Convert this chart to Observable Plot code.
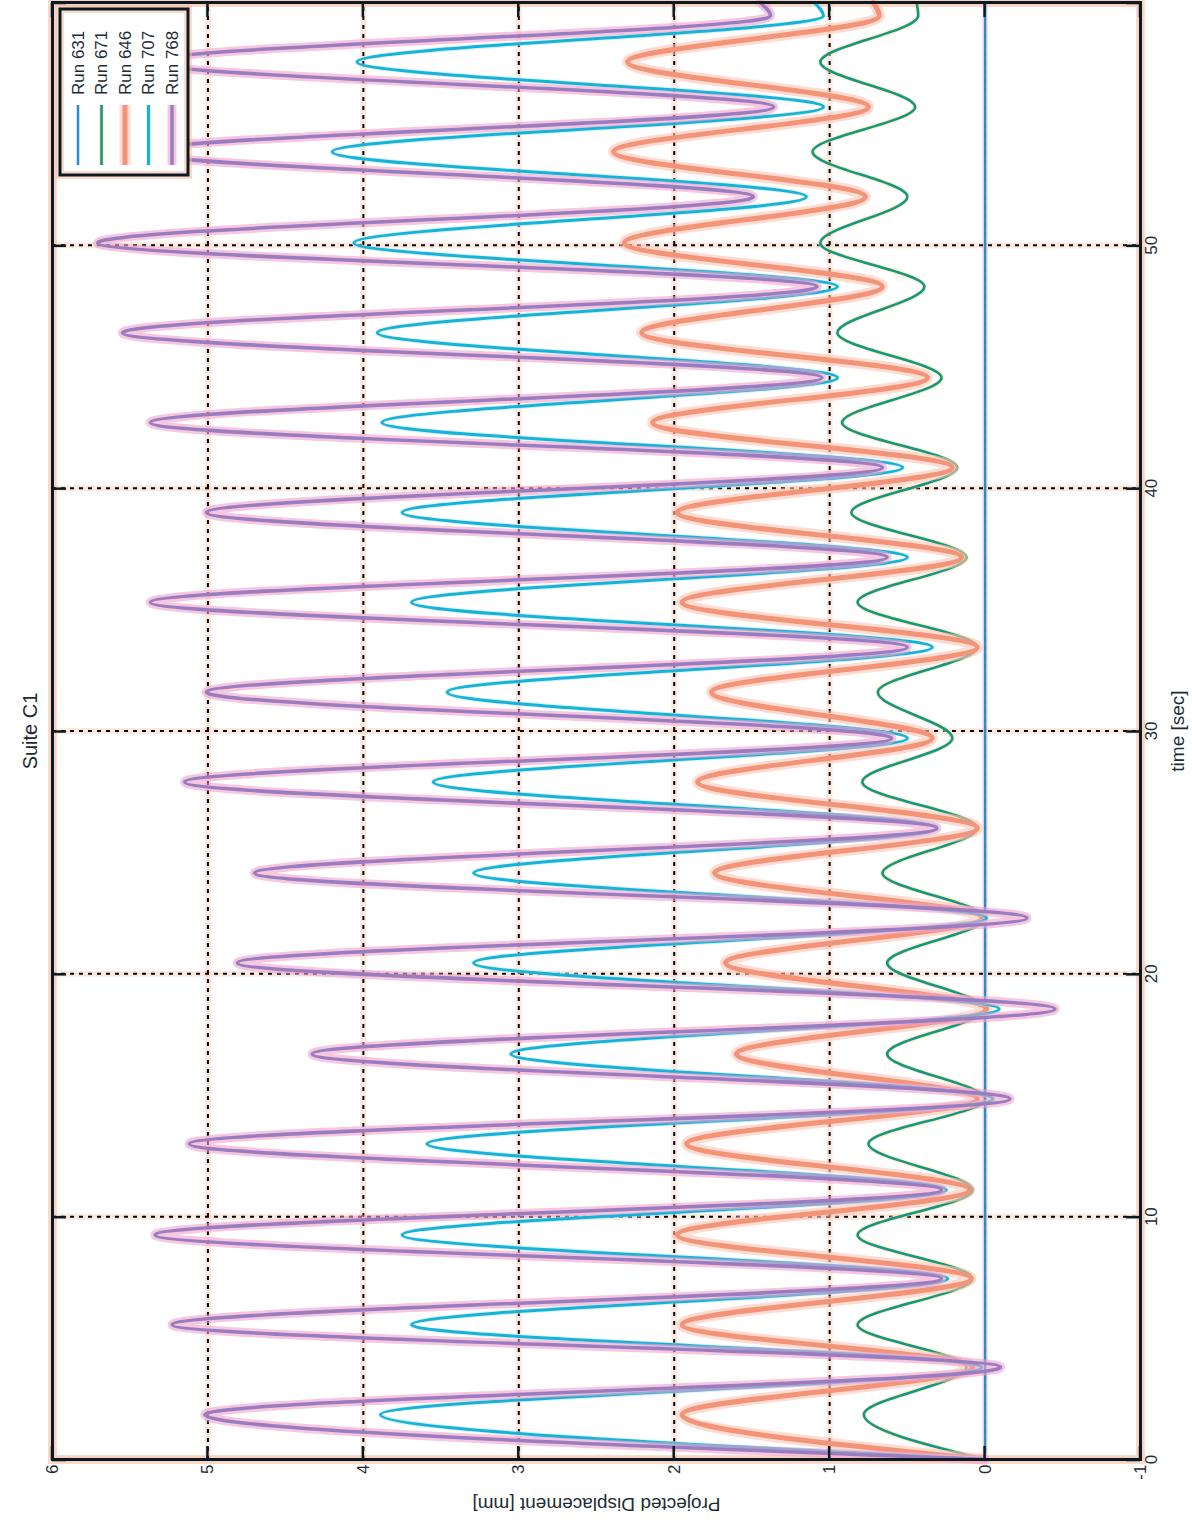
<!DOCTYPE html>
<html><head><meta charset="utf-8">
<script src="https://cdn.jsdelivr.net/npm/d3@7"></script>
<script src="https://cdn.jsdelivr.net/npm/@observablehq/plot@0.6"></script>
<style>
html,body{margin:0;padding:0;background:#fff;width:1192px;height:1530px;overflow:hidden}
#rot{position:absolute;left:0;top:0;width:1530px;height:1192px;transform-origin:0 0;transform:translate(0px,1530px) rotate(-90deg);}
</style></head><body><div id="rot"></div>
<script>
// time of each read extreme (start, peak, trough, ..., end) [sec]
const times = [0, 1.85, 3.8, 5.55, 7.45, 9.25, 11.1, 13.0, 14.85, 16.7, 18.55, 20.45, 22.3, 24.15, 26.0, 27.9, 29.7, 31.6, 33.45, 35.3, 37.15, 39.0, 40.85, 42.7, 44.55, 46.4, 48.3, 50.1, 52.0, 53.85, 55.7, 57.55, 59.45, 60];
const run768 = [0, 5.02,-0.1, 5.23,0.28, 5.34,0.28, 5.12,-0.16, 4.33,-0.45, 4.81,-0.27, 4.70,0.31, 5.15,0.6, 5.01,0.5, 5.37,0.63, 5.01,0.66, 5.37,1.05, 5.55,1.08, 5.71,1.49, 5.45,1.36, 5.40,1.38, 1.45];
const run707 = [0, 3.89,0.02, 3.69,0.24, 3.75,0.25, 3.59,-0.05, 3.05,-0.09, 3.29,-0.01, 3.29,0.31, 3.55,0.5, 3.46,0.34, 3.69,0.5, 3.75,0.53, 3.88,0.95, 3.91,0.95, 4.06,1.15, 4.20,1.04, 4.04,1.04, 1.1];
const run646 = [0, 1.95,0.08, 1.95,0.09, 1.98,0.10, 1.92,0.05, 1.60,-0.01, 1.67,0.02, 1.74,0.05, 1.85,0.34, 1.76,0.05, 1.95,0.15, 1.98,0.21, 2.14,0.37, 2.21,0.66, 2.32,0.77, 2.39,0.75, 2.30,0.68, 0.72];
const run671 = [0, 0.78,0.12, 0.82,0.08, 0.82,0.08, 0.75,0, 0.63,0, 0.63,0, 0.66,0.05, 0.79,0.21, 0.69,0.05, 0.82,0.12, 0.86,0.18, 0.92,0.28, 0.95,0.39, 1.06,0.50, 1.11,0.45, 1.06,0.43, 0.44];
const run631Times = [0, 60];
const run631 = [0, 0];
const seriesNames = ["Run 631", "Run 671", "Run 646", "Run 707", "Run 768"];
const xTicks = [0, 10, 20, 30, 40, 50, 60];
const xTickLabels = [0, 10, 20, 30, 40, 50];
const yTicks = [-1, 0, 1, 2, 3, 4, 5, 6];
const titleText = "Suite C1";
const xLabel = "time [sec]";
const yLabel = "Projected Displacement [mm]";

const styles = {
  "Run 631": {halo: null, haloW: 0, core: "#2a8ad6", coreW: 2.5},
  "Run 671": {halo: "#fbe59a", haloW: 5, core: "#14958a", coreW: 2.6},
  "Run 646": {halo: "#fbc7b6", haloW: 11, core: "#f39378", coreW: 5},
  "Run 707": {halo: "#bfe9f3", haloW: 5, core: "#17b2d8", coreW: 3},
  "Run 768": {halo: "#f2a2cc", haloW: 9, core: "#9a7cc0", coreW: 3.5}
};

function rowsOf(name, ts, vs) { return ts.map((t, i) => ({series: name, t, v: vs[i]})); }
const table = [
  rowsOf("Run 631", run631Times, run631),
  rowsOf("Run 671", times, run671),
  rowsOf("Run 646", times, run646),
  rowsOf("Run 707", times, run707),
  rowsOf("Run 768", times, run768)
];

const lineMarks = [];
table.forEach(rows => {
  const s = styles[rows[0].series];
  if (s.halo) lineMarks.push(Plot.line(rows, {x: "t", y: "v", curve: "monotone-x", stroke: s.halo, strokeWidth: s.haloW, strokeOpacity: 0.6}));
  lineMarks.push(Plot.line(rows, {x: "t", y: "v", curve: "monotone-x", stroke: s.core, strokeWidth: s.coreW}));
});

const ink = "#1d2c33";
const fmt = d => String(d);
const plot = Plot.plot({
  width: 1530, height: 1192,
  marginLeft: 70, marginRight: 3, marginTop: 52, marginBottom: 52,
  x: {domain: [0, 60], ticks: xTicks, label: null},
  y: {domain: [-1, 6], ticks: yTicks, label: null},
  style: {fontFamily: "'Liberation Sans', Arial, sans-serif", background: "#fff", color: ink},
  marks: [
    Plot.frame({stroke: "#f6b7a0", strokeWidth: 9, strokeOpacity: 0.5}),
    Plot.gridX(xTicks, {stroke: "#f6b7a0", strokeWidth: 6, strokeOpacity: 0.3}),
    Plot.gridY(yTicks, {stroke: "#f6b7a0", strokeWidth: 6, strokeOpacity: 0.3}),
    Plot.gridX(xTicks, {stroke: "#000", strokeOpacity: 1, strokeWidth: 2, strokeDasharray: "4,5"}),
    Plot.gridY(yTicks, {stroke: "#000", strokeOpacity: 1, strokeWidth: 2, strokeDasharray: "4,5"}),
    ...lineMarks,
    Plot.frame({stroke: "#0a1a20", strokeWidth: 3}),
    Plot.axisX(xTickLabels, {anchor: "bottom", tickSize: 0, tickPadding: 4, fontSize: 17, label: null, fill: ink, tickFormat: fmt}),
    Plot.axisY(yTicks, {anchor: "left", tickSize: 0, tickPadding: 5, fontSize: 17, label: null, fill: ink, tickFormat: fmt}),
    Plot.text([xLabel], {text: d => d, frameAnchor: "bottom", dy: 37, fontSize: 19, fill: ink, lineAnchor: "middle"}),
    Plot.text([yLabel], {text: d => d, frameAnchor: "left", dx: -45, rotate: -90, textAnchor: "middle", lineAnchor: "middle", fontSize: 19, fill: ink}),
    Plot.text([titleText], {text: d => d, frameAnchor: "top", dy: -22, fontSize: 20, fill: ink, lineAnchor: "middle"})
  ]
});

// inward tick marks and legend
const svg = d3.select(plot);
const sx = plot.scale("x"), sy = plot.scale("y");
const fx0 = sx.apply(0), fx1 = sx.apply(60), fy0 = sy.apply(6), fy1 = sy.apply(-1);
const tg = svg.append("g").attr("stroke", "#0a1a20").attr("stroke-width", 2.5);
xTicks.forEach(v => {
  const px = sx.apply(v);
  tg.append("line").attr("x1", px).attr("x2", px).attr("y1", fy1).attr("y2", fy1 - 14);
  tg.append("line").attr("x1", px).attr("x2", px).attr("y1", fy0).attr("y2", fy0 + 14);
});
yTicks.forEach(v => {
  const py = sy.apply(v);
  tg.append("line").attr("y1", py).attr("y2", py).attr("x1", fx0).attr("x2", fx0 + 14);
  tg.append("line").attr("y1", py).attr("y2", py).attr("x1", fx1).attr("x2", fx1 - 14);
});

const lg = svg.append("g");
const bx = fx1 - 172, by = fy0 + 8, bw = 166, bh = 128;
lg.append("rect").attr("x", bx).attr("y", by).attr("width", bw).attr("height", bh)
  .attr("fill", "#fff").attr("stroke", "#f6b7a0").attr("stroke-width", 8).attr("stroke-opacity", 0.5);
lg.append("rect").attr("x", bx).attr("y", by).attr("width", bw).attr("height", bh)
  .attr("fill", "none").attr("stroke", "#0a1a20").attr("stroke-width", 3);
seriesNames.forEach((name, i) => {
  const s = styles[name];
  const yy = by + 18 + i * 23.5;
  if (s.halo) lg.append("line").attr("x1", bx + 10).attr("x2", bx + 70).attr("y1", yy).attr("y2", yy)
    .attr("stroke", s.halo).attr("stroke-width", s.haloW).attr("stroke-opacity", 0.6);
  lg.append("line").attr("x1", bx + 10).attr("x2", bx + 70).attr("y1", yy).attr("y2", yy)
    .attr("stroke", s.core).attr("stroke-width", s.coreW);
  lg.append("text").attr("x", bx + 80).attr("y", yy).attr("dy", "0.35em").attr("text-anchor", "start")
    .attr("font-size", 17).attr("fill", ink).attr("font-family", "'Liberation Sans', Arial, sans-serif").text(name);
});

document.getElementById("rot").appendChild(plot);
</script></body></html>
